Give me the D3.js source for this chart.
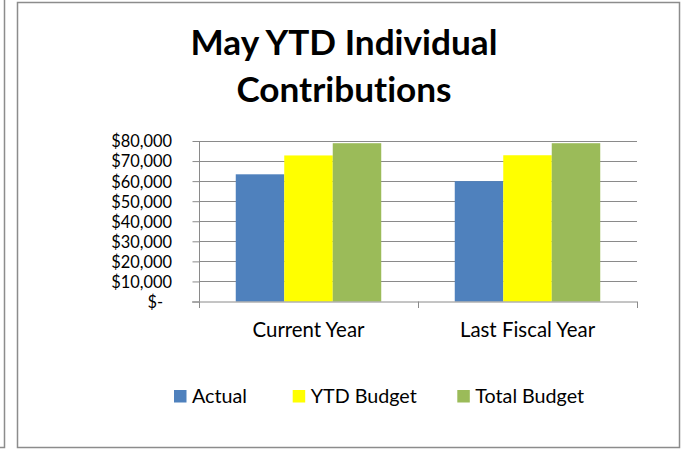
<!DOCTYPE html>
<html>
<head>
<meta charset="utf-8">
<script src="https://cdn.jsdelivr.net/npm/d3@7"></script>
<style>
  html, body { margin: 0; padding: 0; background: #fff; }
  svg { display: block; }
  text { font-family: Lato, "Open Sans", sans-serif; fill: #000; font-variant-ligatures: none; font-feature-settings: "liga" 0, "clig" 0; }
</style>
</head>
<body>
<svg id="chart" width="685" height="449"></svg>
<script>
// ---- Data ----
const categories = ["Current Year", "Last Fiscal Year"];
const seriesNames = ["Actual", "YTD Budget", "Total Budget"];
const actual = [63400, 60000];
const ytdBudget = [72800, 72900];
const totalBudget = [78900, 78900];
const yTicks = [0, 10000, 20000, 30000, 40000, 50000, 60000, 70000, 80000];
const titleLines = ["May YTD Individual", "Contributions"];
const colors = ["#4F81BD", "#FFFF00", "#9BBB59"];

const seriesValues = [actual, ytdBudget, totalBudget];

const svg = d3.select("#chart");

// font fitting helper (layout only)
function fitSize(str, weight, target) {
  const t = svg.append("text").attr("font-size", 100).attr("font-weight", weight).text(str);
  const w = t.node().getComputedTextLength();
  t.remove();
  return 100 * target / w;
}

// frames
const frameColor = "#8c8c8c";
svg.append("path").attr("d", "M0,447.5H4.5V0").attr("fill", "none")
  .attr("stroke", frameColor).attr("stroke-width", 1.5);
svg.append("rect").attr("x", 17.5).attr("y", 2.5).attr("width", 662).attr("height", 445)
  .attr("fill", "#fff").attr("stroke", frameColor).attr("stroke-width", 1.5);

// title
const titleSize = fitSize(titleLines[0], "bold", 307);
svg.append("g").selectAll("text").data(titleLines).join("text")
  .attr("x", 344)
  .attr("y", (d, i) => [55, 101.7][i])
  .attr("text-anchor", "middle")
  .attr("font-weight", "bold")
  .attr("font-size", titleSize)
  .text(d => d);

// scales
const plot = { left: 199, right: 637, top: 141, bottom: 301.5 };
const y = d3.scaleLinear().domain([0, 80000]).range([plot.bottom, plot.top]);
const x0 = d3.scaleBand().domain(categories).range([plot.left, plot.right]).padding(0);
const x1 = d3.scaleBand().domain(seriesNames).range([0, x0.bandwidth()])
  .paddingInner(0).paddingOuter(0.758);

const gridColor = "#8a8a8a";

// gridlines
svg.append("g").selectAll("line").data(yTicks.filter(d => d > 0)).join("line")
  .attr("x1", plot.left).attr("x2", plot.right)
  .attr("y1", d => Math.round(y(d)) + 0.5).attr("y2", d => Math.round(y(d)) + 0.5)
  .attr("stroke", gridColor).attr("stroke-width", 1);

// bars
const barData = [];
categories.forEach((c, ci) => {
  seriesNames.forEach((s, si) => {
    barData.push({ cat: c, series: s, value: seriesValues[si][ci], color: colors[si] });
  });
});
svg.append("g").selectAll("rect").data(barData).join("rect")
  .attr("x", d => x0(d.cat) + x1(d.series))
  .attr("y", d => y(d.value))
  .attr("width", x1.bandwidth())
  .attr("height", d => y(0) - y(d.value))
  .attr("fill", d => d.color);

// y axis
const fmt = d3.format(",");
const yAxis = d3.axisLeft(y).tickValues(yTicks).tickSize(7).tickPadding(0)
  .tickFormat(d => d === 0 ? "$-" : "$" + fmt(d));
const yG = svg.append("g").attr("transform", `translate(${plot.left + 0.5},0)`).call(yAxis);
yG.select(".domain").attr("stroke", gridColor).attr("d", `M0,${plot.top}V${plot.bottom}`);
yG.selectAll(".tick line").attr("stroke", gridColor);
const axisSize = 16.4;
yG.selectAll(".tick text")
  .attr("font-family", "Lato, 'Open Sans', sans-serif")
  .attr("font-size", axisSize)
  .attr("fill", "#000")
  .attr("x", -27.5)
  .attr("dy", "0.36em")
  .attr("dx", d => d === 0 ? -9 : 0);

// x axis
const xAxis = d3.axisBottom(x0).tickSize(0).tickPadding(0);
const xG = svg.append("g").attr("transform", `translate(0,${plot.bottom})`).call(xAxis);
xG.select(".domain").attr("stroke", gridColor).attr("d", `M${plot.left - 7},0.5H${plot.right}`);
const catSize = fitSize("Current Year", "normal", 112);
xG.selectAll(".tick text")
  .attr("font-family", "Lato, 'Open Sans', sans-serif")
  .attr("font-size", catSize)
  .attr("fill", "#000")
  .attr("y", 35.5)
  .attr("dy", 0);
// category boundary ticks
const bounds = categories.map(c => x0(c)).concat([x0(categories[categories.length - 1]) + x0.bandwidth()]);
xG.append("g").selectAll("line").data(bounds).join("line")
  .attr("x1", d => Math.round(d) + 0.5).attr("x2", d => Math.round(d) + 0.5)
  .attr("y1", 0).attr("y2", 6.5)
  .attr("stroke", gridColor);

// legend
const legendSize = fitSize("Actual", "normal", 55);
const legendX = [174, 292.7, 457.3];
const lg = svg.append("g").selectAll("g").data(seriesNames).join("g")
  .attr("transform", (d, i) => `translate(${legendX[i]},0)`);
lg.append("rect").attr("x", 0).attr("y", 390).attr("width", 12.5).attr("height", 12.5)
  .attr("fill", (d, i) => colors[i]);
lg.append("text").attr("x", 18).attr("y", 403.3).attr("font-size", legendSize).text(d => d);
</script>
</body>
</html>
